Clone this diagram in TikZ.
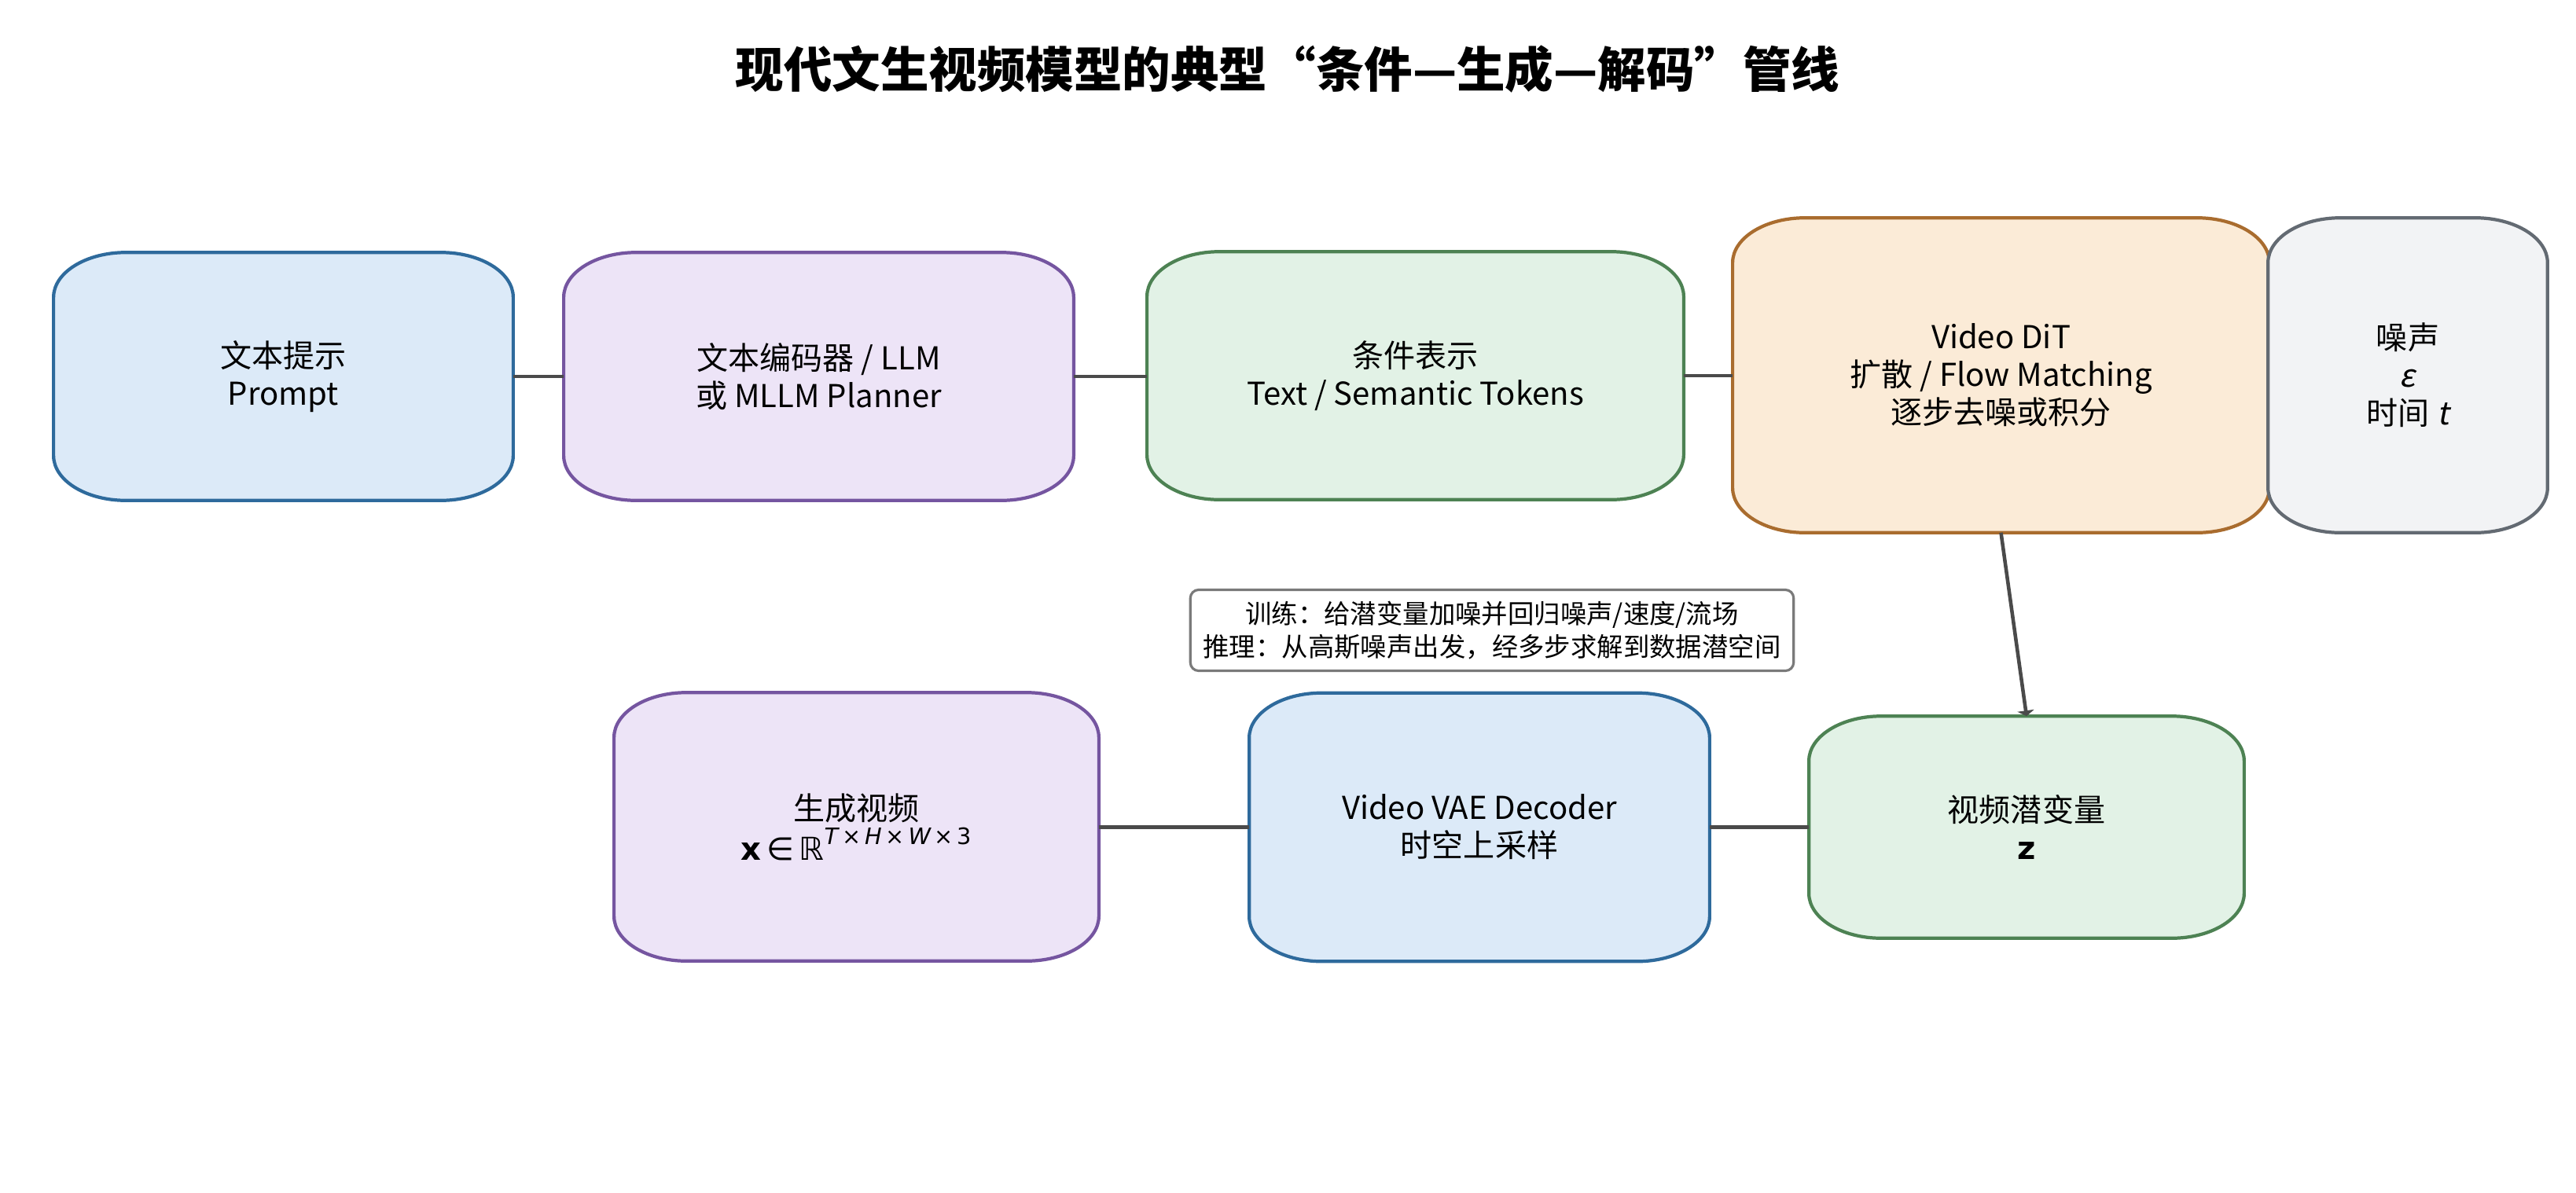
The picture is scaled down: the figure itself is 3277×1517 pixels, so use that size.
\documentclass[tikz,border=0pt]{standalone}
\usepackage{fontspec}
\setmainfont{Noto Sans CJK SC}
\newfontfamily\slfont{Noto Sans CJK SC}[FakeSlant=0.2]
\newfontfamily\dvfont{DejaVu Sans}
\usetikzlibrary{arrows.meta,backgrounds}
\definecolor{bluefill}{HTML}{DCEAF8}
\definecolor{bluedraw}{HTML}{2E6A9C}
\definecolor{purpfill}{HTML}{EDE4F7}
\definecolor{purpdraw}{HTML}{7555A0}
\definecolor{greenfill}{HTML}{E2F2E6}
\definecolor{greendraw}{HTML}{4D8253}
\definecolor{orfill}{HTML}{FBEBD7}
\definecolor{ordraw}{HTML}{A96C2E}
\definecolor{grayfill}{HTML}{F2F3F5}
\definecolor{graydraw}{HTML}{636A72}
\definecolor{connc}{HTML}{4A4A4A}
\definecolor{notedraw}{HTML}{7A7A7A}
\newcommand\erx{0.92cm}
\newcommand\ery{0.57cm}
\newcommand\ebox[3]{%
\path[draw=#3, fill=#2, line width=1.2pt]
 ([xshift=\erx]#1.north west) -- ([xshift=-\erx]#1.north east)
 arc[start angle=90, end angle=0, x radius=\erx, y radius=\ery]
 -- ([yshift=\ery]#1.south east)
 arc[start angle=0, end angle=-90, x radius=\erx, y radius=\ery]
 -- ([xshift=\erx]#1.south west)
 arc[start angle=-90, end angle=-180, x radius=\erx, y radius=\ery]
 -- ([yshift=-\ery]#1.north west)
 arc[start angle=180, end angle=90, x radius=\erx, y radius=\ery]
 -- cycle;}
\tikzset{
  boxnode/.style={rectangle, inner sep=0pt, align=center, text=black,
    font=\fontsize{11.4}{13.6}\selectfont},
  conn/.style={draw=connc, line width=1.3pt},
  notebox/.style={rectangle, draw=notedraw, fill=white, line width=0.9pt,
    rounded corners=3pt, inner sep=0pt, align=center,
    minimum width=7.67cm, minimum height=1.03cm,
    font=\fontsize{9.5}{12}\selectfont},
  titlenode/.style={font=\fontsize{17.5}{20}\selectfont\bfseries, inner sep=0pt}
}
\begin{document}
\begin{tikzpicture}[x=0.01cm, y=-0.01cm]
\useasboundingbox (0,0) rectangle (3277,1517);

\node[titlenode] (title) at (1638,88) {现代文生视频模型的典型“条件—生成—解码”管线};

\node[boxnode, minimum width=5.83cm, minimum height=3.14cm] (b1) at (360.5,479) {文本提示\\Prompt};
\node[boxnode, minimum width=6.47cm, minimum height=3.14cm] (b2) at (1041.5,479) {文本编码器 / LLM\\或 MLLM Planner};
\node[boxnode, minimum width=6.81cm, minimum height=3.14cm] (b3) at (1800.5,478) {条件表示\\Text / Semantic Tokens};
\node[boxnode, minimum width=6.81cm, minimum height=3.99cm] (b4) at (2545.5,477.5) {Video DiT\\扩散 / Flow Matching\\逐步去噪或积分};
\node[boxnode, minimum width=3.54cm, minimum height=3.99cm] (b5) at (3063,477.5) {噪声\\{\slfont ε}\\时间 {\slfont t}};

\node[notebox] (note) at (1898,802) {训练：给潜变量加噪并回归噪声/速度/流场\\推理：从高斯噪声出发，经多步求解到数据潜空间};

\node[boxnode, minimum width=6.15cm, minimum height=3.40cm] (b6) at (1089.5,1052) {生成视频\\[1pt]{\dvfont\bfseries x}\,{\dvfont ∈}\,{\dvfont ℝ}\raisebox{0.9ex}{\fontsize{8.2}{9}\dvfont{\itshape T}\,×\,{\itshape H}\,×\,{\itshape W}\,×\,3}};
\node[boxnode, minimum width=5.84cm, minimum height=3.40cm] (b7) at (1882,1052.5) {Video VAE Decoder\\时空上采样};
\node[boxnode, minimum width=5.52cm, minimum height=2.81cm] (b8) at (2578,1052.5) {视频潜变量\\{\dvfont\bfseries z}};

\begin{scope}[on background layer]
\fill[white] (0,0) rectangle (3277,1517);
\ebox{b1}{bluefill}{bluedraw}
\ebox{b2}{purpfill}{purpdraw}
\ebox{b3}{greenfill}{greendraw}
\ebox{b4}{orfill}{ordraw}
\ebox{b5}{grayfill}{graydraw}
\ebox{b6}{purpfill}{purpdraw}
\ebox{b7}{bluefill}{bluedraw}
\ebox{b8}{greenfill}{greendraw}
\draw[conn] (b1.east) -- (b1.east -| b2.west);
\draw[conn] (b2.east) -- (b2.east -| b3.west);
\draw[conn] (b3.east) -- (b3.east -| b4.west);
\draw[conn] (b7.west) -- (b7.west -| b6.east);
\draw[conn] (b8.west) -- (b8.west -| b7.east);
\draw[conn, -{Triangle[length=2pt,width=6pt]}] (b4.south) -- (b8.north);
\end{scope}
\end{tikzpicture}
\end{document}
